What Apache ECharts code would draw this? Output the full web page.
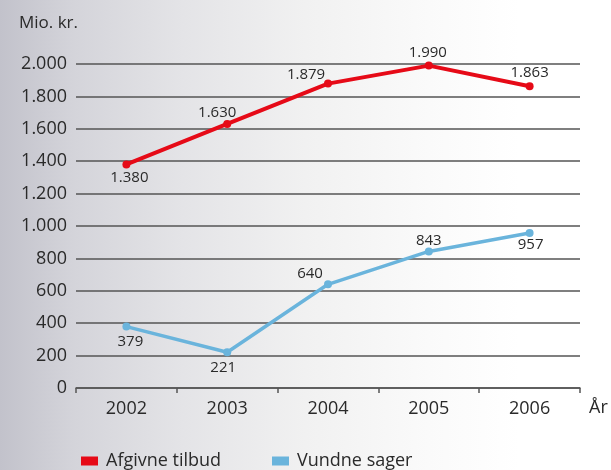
<!DOCTYPE html>
<html>
<head>
<meta charset="utf-8">
<script src="https://cdn.jsdelivr.net/npm/echarts@6/dist/echarts.min.js"></script>
<style>
  html, body { margin: 0; padding: 0; }
  body {
    width: 611px; height: 470px; overflow: hidden;
    background: linear-gradient(90deg, #c2c2cb 0%, #d4d4da 12%, #e4e4e7 30%, #f1f1f1 50%, #fafafa 70%, #ffffff 85%);
  }
  #chart { width: 611px; height: 470px; }
</style>
</head>
<body>
<div id="chart"></div>
<script>
const years = ['2002', '2003', '2004', '2005', '2006'];
const afgivneTilbud = [1380, 1630, 1879, 1990, 1863];
const vundneSager = [379, 221, 640, 843, 957];

// Label placement relative to each point: [dx, dy] from the marker centre
const tilbudLabelShift = [[3, 13], [-10, -11], [-22, -9], [-1, -13], [0, -13]];
const sagerLabelShift = [[4, 15], [-4, 16], [-18, -11], [0, -11], [1, 12]];

const fmt = v => String(v).replace(/\B(?=(\d{3})+(?!\d))/g, '.');
const font = '"Open Sans", "DejaVu Sans", sans-serif';
const red = '#e60a17';
const blue = '#6ab4dc';
const ink = '#2a2a2a';

function withLabels(values, shifts) {
  return values.map((v, i) => ({ value: v, label: { position: 'inside', offset: shifts[i] } }));
}

const chart = echarts.init(document.getElementById('chart'));
const legendText = { fontSize: 18, color: ink, fontFamily: font, padding: [0, 0, 0, 3] };
chart.setOption({
  backgroundColor: 'transparent',
  animation: false,
  textStyle: { fontFamily: font },
  grid: { left: 76, right: 31, top: 64, bottom: 82 },
  legend: [
    { left: 76, top: 447, itemWidth: 17, itemHeight: 9, icon: 'rect', textStyle: legendText, data: ['Afgivne tilbud'] },
    { left: 267, top: 447, itemWidth: 17, itemHeight: 9, icon: 'rect', textStyle: legendText, data: ['Vundne sager'] }
  ],
  graphic: [
    { type: 'text', left: 19, top: 15, style: { text: 'Mio. kr.', fontSize: 17, fill: ink, fontFamily: font } },
    { type: 'text', left: 589, top: 399, style: { text: 'År', fontSize: 18, fill: ink, fontFamily: font } }
  ],
  xAxis: {
    type: 'category',
    data: years,
    boundaryGap: true,
    axisLine: { lineStyle: { color: '#555', width: 1.5 } },
    axisTick: { show: true, length: 5, lineStyle: { color: '#555', width: 1.5 } },
    axisLabel: { color: ink, fontSize: 18, margin: 12, fontFamily: font }
  },
  yAxis: {
    type: 'value',
    min: 0, max: 2000, interval: 200,
    axisLine: { show: false },
    axisTick: { show: false },
    axisLabel: { color: ink, fontSize: 18, margin: 9, formatter: v => fmt(v), fontFamily: font },
    splitLine: { lineStyle: { color: '#555', width: 1.5 } }
  },
  series: [
    {
      name: 'Afgivne tilbud',
      type: 'line',
      data: withLabels(afgivneTilbud, tilbudLabelShift),
      color: red,
      lineStyle: { width: 4, color: red },
      symbol: 'circle', symbolSize: 8,
      itemStyle: { color: red },
      label: { show: true, color: ink, fontSize: 15, formatter: p => fmt(p.value), fontFamily: font }
    },
    {
      name: 'Vundne sager',
      type: 'line',
      data: withLabels(vundneSager, sagerLabelShift),
      color: blue,
      lineStyle: { width: 3.5, color: blue },
      symbol: 'circle', symbolSize: 8,
      itemStyle: { color: blue },
      label: { show: true, color: ink, fontSize: 15, formatter: p => fmt(p.value), fontFamily: font }
    }
  ]
});
</script>
</body>
</html>
